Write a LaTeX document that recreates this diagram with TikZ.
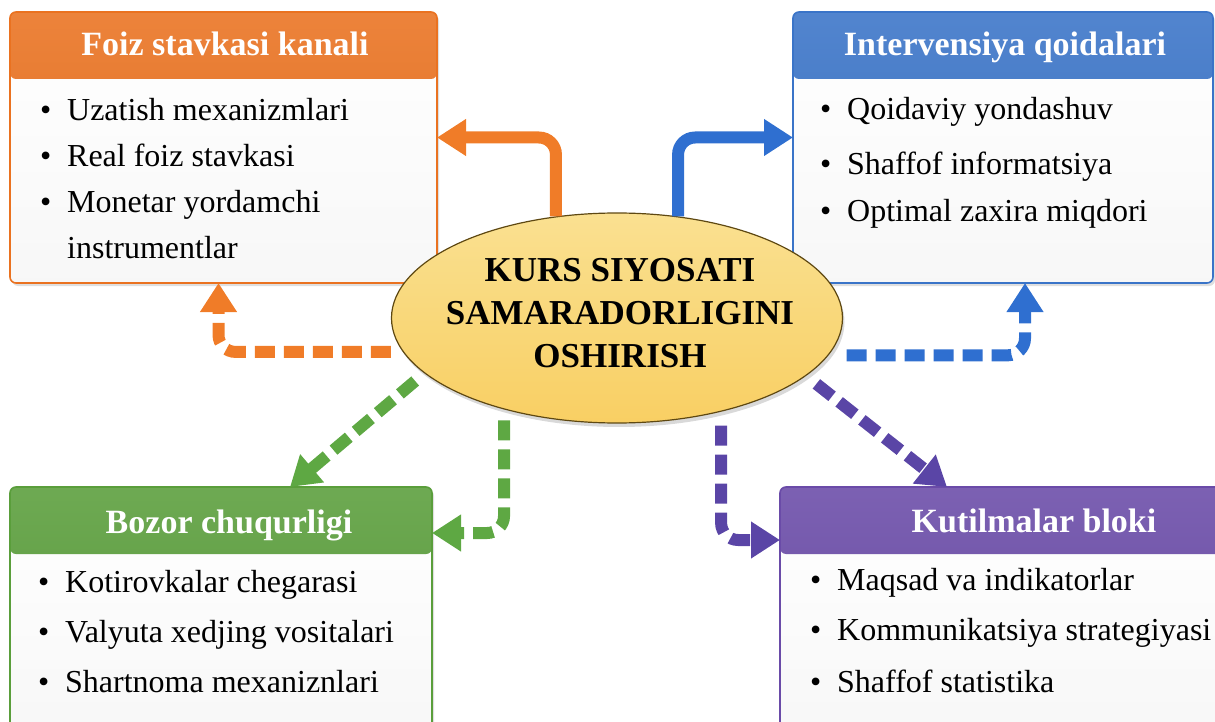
\documentclass[tikz,border=0pt]{standalone}
\usepackage{fontspec}
\setmainfont{Liberation Serif}
\usetikzlibrary{arrows.meta,shapes.geometric,shadows}
\tikzset{>=latex}

\definecolor{orgL}{HTML}{F07C28}
\definecolor{orgH}{HTML}{EA7220}
\definecolor{bluL}{HTML}{2F6FD0}
\definecolor{bluH}{HTML}{3A74C8}
\definecolor{grnL}{HTML}{5EA843}
\definecolor{grnH}{HTML}{5A9E3B}
\definecolor{purL}{HTML}{5A45A6}
\definecolor{purH}{HTML}{6A4BA8}
\definecolor{ellF}{HTML}{F8D66C}
\definecolor{ellD}{HTML}{5E4812}

\newcommand\itm{\makebox[27pt][l]{\textbullet}}

\begin{document}
\begin{tikzpicture}[x=1pt,y=-1pt]
			\tikzset{box/.style = {draw=#1, line width=1.6pt, rounded corners=6pt, inner sep=0pt, outer sep=0pt,
				top color=white, bottom color=gray!6,
				drop shadow={opacity=.25, shadow xshift=2pt, shadow yshift=-3pt},
				path picture={\shade[top color=#1!88!white, bottom color=#1!94!black]
					(path picture bounding box.north west) rectangle ([yshift=-67pt]path picture bounding box.north east);}}}
			\tikzset{title/.style = {anchor=base, text=white, font=\fontsize{34}{40}\selectfont\bfseries}}
			\tikzset{item/.style = {anchor=base west, inner sep=0pt, font=\fontsize{32}{40}\selectfont}}
			\tikzset{edge/.style = {line width=12pt, -{Triangle[length=29pt,width=35pt]}, rounded corners=17pt}}
			\tikzset{dashedge/.style = {dash pattern=on 20pt off 9pt}}

			\useasboundingbox (0,0) rectangle (1215,722);

			% boxes
			\node[box=orgH, minimum width=427pt, minimum height=271pt] (foiz) at (223.5,147.5) {};
			\node[box=bluH, minimum width=420pt, minimum height=271pt] (intv) at (1003,147.5) {};
			\node[box=grnH, minimum width=422pt, minimum height=253pt] (bozor) at (221,613.5) {};
			\node[box=purH, minimum width=510pt, minimum height=253pt] (kutil) at (1035,613.5) {};

			\node[title] (foizT) at (225,56) {Foiz stavkasi kanali};
			\node[title] (intvT) at (1005,56) {Intervensiya qoidalari};
			\node[title] (bozorT) at (229,533) {Bozor chuqurligi};
			\node[title] (kutilT) at (1034,532) {Kutilmalar bloki};

			\node[item] (f1) at (40,121) {\itm Uzatish mexanizmlari};
			\node[item] (f2) at (40,167) {\itm Real foiz stavkasi};
			\node[item] (f3) at (40,212) {\itm Monetar yordamchi};
			\node[item] (f4) at (67,258) {instrumentlar};

			\node[item] (i1) at (820,120) {\itm Qoidaviy yondashuv};
			\node[item] (i2) at (820,175) {\itm Shaffof informatsiya};
			\node[item] (i3) at (820,222) {\itm Optimal zaxira miqdori};

			\node[item] (b1) at (38,592) {\itm Kotirovkalar chegarasi};
			\node[item] (b2) at (38,642) {\itm Valyuta xedjing vositalari};
			\node[item] (b3) at (38,692) {\itm Shartnoma mexaniznlari};

			\node[item] (k1) at (810,590) {\itm Maqsad va indikatorlar};
			\node[item] (k2) at (810,640) {\itm Kommunikatsiya strategiyasi};
			\node[item] (k3) at (810,692) {\itm Shaffof statistika};

			% centre
			\node[ellipse, draw=ellD, line width=1.2pt, top color=ellF!75!white, bottom color=ellF!92!orange,
				minimum width=451pt, minimum height=210pt, inner sep=0pt,
				drop shadow={opacity=.3, shadow xshift=2pt, shadow yshift=-4pt}] (kurs) at (617,318) {};
			\node[align=center, font=\fontsize{35}{43}\selectfont\bfseries] (kursT) at (620,313)
				{KURS SIYOSATI\\SAMARADORLIGINI\\OSHIRISH};

			% connectors
			\draw[edge, orgL] (kurs.121.5) |- ([yshift=10pt]foiz.east);
			\draw[edge, bluL] (kurs.59.3) |- ([yshift=10pt]intv.west);
			\draw[edge, dashedge, orgL, shorten <=12pt] (kurs.189.1) -| ([xshift=-5pt]foiz.south);
			\draw[edge, dashedge, bluL, shorten <=18pt] (kurs.350.9) -| ([xshift=22pt]intv.south);
			\draw[edge, dashedge, grnL, shorten <=12pt] (kurs.196.7) -- ([xshift=69pt]bozor.north);
			\draw[edge, dashedge, grnL, shorten <=11pt] (kurs.219.1) |- ([yshift=-46pt]bozor.north east);
			\draw[edge, dashedge, purL, shorten <=13pt] (kurs.343.7) -- ([xshift=-88pt]kutil.north);
			\draw[edge, dashedge, purL, shorten <=14pt] (kurs.318.5) |- ([yshift=-53pt]kutil.north west);
		\end{tikzpicture}
\end{document}
